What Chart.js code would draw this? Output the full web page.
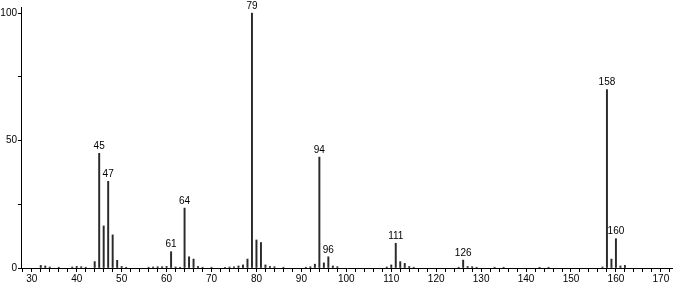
<!DOCTYPE html>
<html>
<head>
<meta charset="utf-8">
<script src="https://cdn.jsdelivr.net/npm/chart.js@4"></script>
<style>
  html, body { margin: 0; padding: 0; background: #fff; }
  #wrap { width: 673px; height: 285px; }
</style>
</head>
<body>
<div id="wrap"><canvas id="spectrum"></canvas></div>
<script>
// m/z values and relative intensities
const mz = [32, 33, 34, 36, 39, 40, 41, 42, 44, 45, 46, 47, 48, 49, 50, 51,
  56, 57, 58, 59, 60, 61, 62, 63, 64, 65, 66, 67, 68, 70,
  73, 74, 75, 76, 77, 78, 79, 80, 81, 82, 83, 84, 86,
  91, 92, 93, 94, 95, 96, 97, 98,
  109, 110, 111, 112, 113, 114, 115,
  125, 126, 127, 128, 129, 133, 135, 143, 145,
  157, 158, 159, 160, 161, 162];
const intensity = [1.0, 0.8, 0.4, 0.3, 0.4, 0.6, 0.5, 0.3, 2.5, 45, 16.5, 34, 13, 3, 0.6, 0.3,
  0.3, 0.4, 0.5, 0.5, 0.6, 6.4, 0.4, 0.3, 23.5, 4.4, 3.5, 0.6, 0.3, 0.3,
  0.3, 0.4, 0.5, 0.8, 1.2, 3.5, 100, 11, 10, 1.2, 0.6, 0.5, 0.3,
  0.3, 0.5, 1.5, 43.5, 2, 4.4, 0.8, 0.5,
  0.4, 1.2, 9.7, 2.5, 1.8, 0.6, 0.3,
  0.3, 3.1, 0.6, 0.5, 0.3, 0.3, 0.3, 0.3, 0.3,
  0.4, 70, 3.5, 11.5, 0.8, 1.0];
// peaks that carry a label
const labeledPeaks = [45, 47, 61, 64, 79, 94, 96, 111, 126, 158, 160];
const yLabels = [0, 50, 100];

const FONT = { family: 'Liberation Sans', size: 10 };

const peakLabels = {
  id: 'peakLabels',
  afterDatasetsDraw(chart) {
    const ctx = chart.ctx;
    const meta = chart.getDatasetMeta(0);
    ctx.save();
    ctx.fillStyle = '#000';
    ctx.font = FONT.size + 'px ' + FONT.family;
    ctx.textAlign = 'center';
    ctx.textBaseline = 'bottom';
    meta.data.forEach((bar, i) => {
      if (labeledPeaks.includes(mz[i])) {
        ctx.fillText(String(mz[i]), bar.x, bar.y - 2);
      }
    });
    ctx.restore();
  }
};

new Chart(document.getElementById('spectrum'), {
  type: 'bar',
  data: {
    datasets: [{
      data: mz.map((m, i) => ({ x: m, y: intensity[i] })),
      backgroundColor: '#2a2a2a',
      barThickness: 1.3
    }]
  },
  options: {
    responsive: true,
    maintainAspectRatio: false,
    animation: false,
    layout: { padding: { top: 7, right: 0, left: 0, bottom: 0 } },
    plugins: { legend: { display: false }, tooltip: { enabled: false } },
    scales: {
      x: {
        type: 'linear',
        offset: false,
        min: 27.6,
        max: 172.7,
        afterFit(scale) { scale.height = 17; },
        border: { display: true, color: '#000', width: 1 },
        grid: { drawOnChartArea: false, offset: false, tickLength: 4, color: '#000' },
        ticks: {
          stepSize: 2,
          includeBounds: false,
          autoSkip: false,
          maxRotation: 0,
          padding: 1,
          color: '#000',
          font: FONT,
          callback: v => (v % 10 === 0 ? String(v) : '')
        }
      },
      y: {
        min: 0,
        max: 102.4,
        afterFit(scale) { scale.width = 21; },
        border: { display: true, color: '#000', width: 1 },
        grid: { drawOnChartArea: false, tickLength: 3, color: '#000' },
        ticks: {
          stepSize: 25,
          includeBounds: false,
          padding: 1,
          color: '#000',
          font: FONT,
          callback: v => (yLabels.includes(v) ? String(v) : '')
        }
      }
    }
  },
  plugins: [peakLabels]
});
</script>
</body>
</html>
